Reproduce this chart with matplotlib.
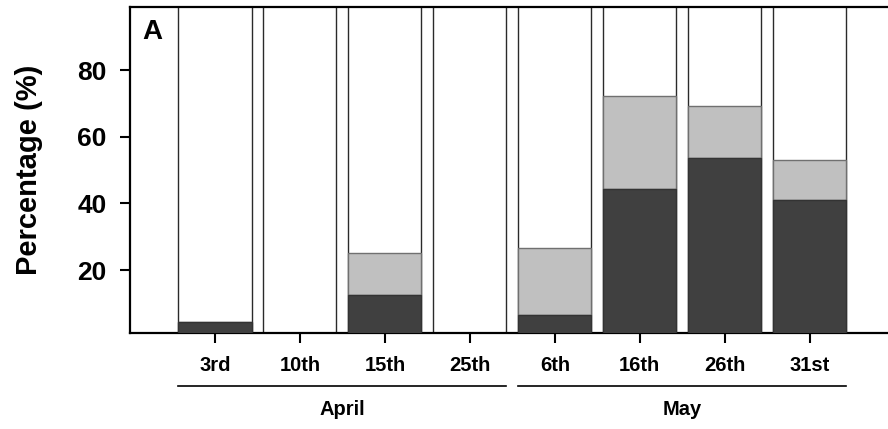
#!/usr/bin/env python3

import matplotlib
matplotlib.use("Agg")
import matplotlib.pyplot as plt
import matplotlib.transforms as mtransforms
import numpy as np

# Sampling dates and months
days = ["3rd", "10th", "15th", "25th", "6th", "16th", "26th", "31st"]
months = ["April", "May"]
month_of_day = [0, 0, 0, 0, 1, 1, 1, 1]

# Percentages per date (bottom dark segment, middle light segment)
dark_pct = [4.4, 0.0, 12.5, 0.0, 6.6, 44.2, 53.5, 40.9]
light_pct = [0.0, 0.0, 12.5, 0.0, 20.1, 28.0, 15.7, 12.0]
total_pct = [100, 100, 100, 100, 100, 100, 100, 100]

# Color palette
dark_gray = "#404040"
light_gray = "#c0c0c0"
edge = "#2a2a2a"

matplotlib.rcParams["font.family"] = ["Liberation Sans", "DejaVu Sans"]
matplotlib.rcParams["font.weight"] = "bold"

fig = plt.figure(figsize=(8.88, 4.29), dpi=100)
ax = fig.add_axes([130 / 888, 1 - 332.7 / 429, 1 - 130 / 888, (332.7 - 7) / 429])

x = np.arange(1, len(days) + 1)
width = 0.86

dark = np.array(dark_pct)
light = np.array(light_pct)
total = np.array(total_pct)

ax.bar(x, total, width, color="white", edgecolor=edge, linewidth=1.0, zorder=1)
ax.bar(x, light, width, bottom=dark, color=light_gray, edgecolor="#707070",
       linewidth=1.0, zorder=2)
ax.bar(x, dark, width, color=dark_gray, edgecolor="#333333", linewidth=1.0, zorder=3)

ax.set_xlim(0, 8.92)
ax.set_ylim(1.2, 98.9)
ax.set_yticks([20, 40, 60, 80])
ax.set_xticks(x)
ax.set_xticklabels(days)

ax.tick_params(axis="y", labelsize=19, length=7, width=1.5, pad=10)
ax.tick_params(axis="x", labelsize=14.5, length=7, width=1.5, pad=10)
for lab in ax.get_xticklabels() + ax.get_yticklabels():
    lab.set_fontweight("bold")

ax.spines["right"].set_visible(False)
for side in ["left", "top", "bottom"]:
    ax.spines[side].set_linewidth(1.6)

ax.set_ylabel("Percentage (%)", fontsize=21, fontweight="bold")
ax.yaxis.set_label_coords(-0.133, 0.5)
ax.yaxis.label.set_va("center")

# Panel letter
ax.text(0.016, 0.963, "A", transform=ax.transAxes, fontsize=20,
        fontweight="bold", ha="left", va="top")

# Month brackets under the date labels
trans = mtransforms.blended_transform_factory(ax.transData, ax.transAxes)
for m, name in enumerate(months):
    xs = [xi for xi, mi in zip(x, month_of_day) if mi == m]
    x0 = xs[0] - width / 2
    x1 = xs[-1] + width / 2
    ax.plot([x0, x1], [-0.1627, -0.1627], color="black", lw=1.2,
            transform=trans, clip_on=False)
    ax.text((x0 + x1) / 2, -0.2527, name, transform=trans, fontsize=14.5,
            fontweight="bold", ha="center", va="baseline")

fig.savefig("out.png", dpi=100)
